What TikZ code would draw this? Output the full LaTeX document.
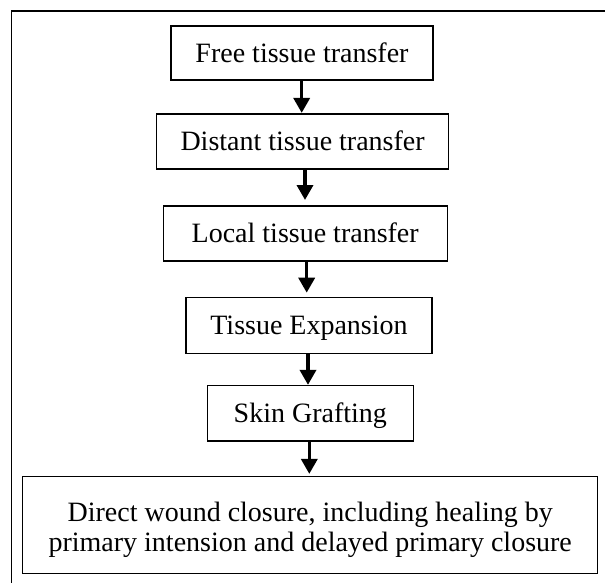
\documentclass[tikz,border=0pt]{standalone}
\usepackage{fontspec}
\setmainfont{Liberation Serif}
\usetikzlibrary{arrows.meta}
\begin{document}
\begin{tikzpicture}[x=1pt,y=-1pt,
  box/.style={draw, line width=1.2pt, inner sep=0pt, font=\fontsize{28}{30}\selectfont},
  one/.style={text height=18.6pt, text depth=0pt},
  arr/.style={line width=3.5pt, -{Triangle[width=16pt,length=15pt]}},
  frame/.style={draw, line width=1.4pt}]
\useasboundingbox (0,0) rectangle (605,582);
\clip (0,0) rectangle (605,582);
\draw[frame] (11.3,11) rectangle (640,620);
\node[box, one, minimum width=262pt, minimum height=54pt] (b1) at (302,53) {Free tissue transfer};
\node[box, one, minimum width=292pt, minimum height=55pt] (b2) at (302.6,141.5) {Distant tissue transfer};
\node[box, one, minimum width=284pt, minimum height=55pt] (b3) at (305.2,233.5) {Local tissue transfer};
\node[box, one, minimum width=246pt, minimum height=55.6pt] (b4) at (309,325.5) {Tissue Expansion};
\node[box, one, minimum width=206pt, minimum height=55.5pt] (b5) at (310.3,413.2) {Skin Grafting};
\node[box, align=center, minimum width=575pt, minimum height=96.8pt] (b6) at (310.2,524.9)
  {\rule{0pt}{30pt}Direct wound closure, including healing by\\primary intension and delayed primary closure\rule[-6pt]{0pt}{6pt}};
\draw[arr, shorten >=0.5pt] ([xshift=-0.3pt]b1.south) -- ([xshift=-0.3pt]b1.south |- b2.north);
\draw[arr, shorten >=5.4pt] ([xshift=2.4pt]b2.south) -- ([xshift=2.4pt]b2.south |- b3.north);
\draw[arr, shorten >=4.4pt] ([xshift=1.5pt]b3.south) -- ([xshift=1.5pt]b3.south |- b4.north);
\draw[arr] ([xshift=-1pt]b4.south) -- ([xshift=-1pt]b4.south |- b5.north);
\draw[arr, shorten >=2pt] ([xshift=-1pt]b5.south) -- ([xshift=-1pt]b5.south |- b6.north);
\end{tikzpicture}
\end{document}
